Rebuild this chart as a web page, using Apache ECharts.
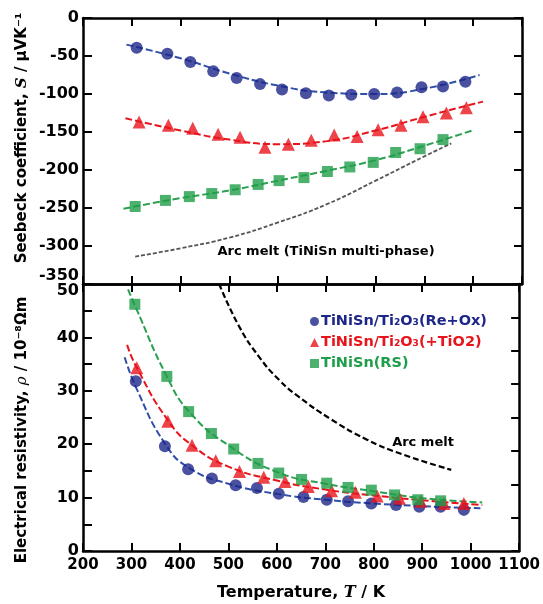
<!DOCTYPE html>
<html>
<head>
<meta charset="utf-8">
<script src="https://cdn.jsdelivr.net/npm/echarts@6/dist/echarts.min.js"></script>
<style>
  html, body { margin: 0; padding: 0; background: #fff; }
  #chart { width: 543px; height: 604px; }
</style>
</head>
<body>
<div id="chart"></div>
<script>
// sample names (legend)
const sampleNames = ['TiNiSn/Ti₂O₃(Re+Ox)', 'TiNiSn/Ti₂O₃(+TiO2)', 'TiNiSn(RS)'];
const markColors = ['#1c2688', '#e8141c', '#1f9e49'];
const fitColors = ['#2f4fa8', '#e8141c', '#2aa050'];
const markSymbols = ['circle', 'triangle', 'rect'];

// Seebeck coefficient S (uV/K) vs T (K)
const seebeckReOx = [[310,-39],[373,-47],[420,-58],[467,-70],[515,-79],[563,-87],[608,-94],[657,-99],[704,-102],[750,-101],[797,-100],[844,-98],[894,-91],[938,-90],[984,-84]];
const seebeckTiO2 = [[315,-137],[375,-141],[425,-145],[477,-153],[522,-157],[573,-170],[621,-166],[668,-161],[715,-154],[762,-156],[805,-147],[852,-141],[897,-130],[945,-125],[986,-118]];
const seebeckRS = [[307,-248],[369,-240],[418,-235],[464,-231],[512,-226],[559,-219],[602,-214],[653,-210],[701,-202],[747,-196],[795,-190],[841,-177],[891,-172],[938,-160]];
const seebeckFitReOx = [[289,-35],[400,-53],[500,-73],[600,-89],[700,-98],[800,-100],[900,-93],[1013,-75]];
const seebeckFitTiO2 = [[287,-132],[400,-148],[500,-160],[600,-166],[700,-162],[800,-148],[900,-130],[1020,-110]];
const seebeckFitRS = [[283,-251],[400,-237],[500,-227],[600,-214],[700,-201],[800,-187],[900,-168],[998,-148]];
const seebeckArcMelt = [[307,-314],[400,-303],[500,-289],[600,-269],[700,-245],[800,-214],[900,-182],[955,-165]];

// Electrical resistivity rho (10^-8 Ohm m) vs T (K)
const rhoReOx = [[309,31.8],[369,19.6],[417,15.3],[466,13.6],[515,12.3],[559,11.8],[604,10.7],[655,10.1],[703,9.6],[747,9.3],[795,8.9],[846,8.6],[894,8.3],[938,8.3],[986,7.7]];
const rhoTiO2 = [[311,34.3],[375,24.3],[425,19.8],[474,16.9],[523,14.9],[573,13.8],[617,13.0],[665,12.1],[713,11.3],[762,11.0],[807,10.3],[853,9.9],[897,9.3],[945,8.9],[986,8.9]];
const rhoRS = [[307,46.2],[373,32.7],[418,26.1],[465,22.0],[511,19.1],[561,16.4],[604,14.6],[651,13.4],[703,12.7],[747,11.9],[795,11.4],[843,10.5],[891,9.6],[938,9.4]];
const rhoFitReOx = [[286,36.3],[310,30.5],[370,20],[420,15.5],[500,12.6],[600,10.7],[700,9.6],[800,8.9],[900,8.4],[1020,8.0]];
const rhoFitTiO2 = [[291,38.6],[310,34.5],[375,24.5],[425,19.8],[500,15.8],[600,13.2],[700,11.5],[800,10.4],[900,9.5],[1024,8.6]];
const rhoFitRS = [[293,49],[307,46],[373,32.7],[420,26],[500,19.8],[600,14.8],[700,12.6],[800,11.2],[900,9.9],[1024,9.1]];
const rhoArcMelt = [[481,50],[522,42.1],[563,36.4],[604,32.1],[645,28.9],[713,24.6],[785,20.9],[856,18.2],[960,15.2]];

const font = 'DejaVu Sans, sans-serif';
const chart = echarts.init(document.getElementById('chart'));

function xAxisFor(gridIndex, position, showLabels) {
  return {
    type: 'value', gridIndex: gridIndex, position: position,
    min: 200, max: 1100, interval: 100,
    axisLine: { show: true, onZero: false, lineStyle: { color: '#000', width: 2.5 } },
    axisTick: { show: true, inside: true, length: 8, lineStyle: { color: '#000', width: 2 } },
    axisLabel: { show: showLabels, color: '#000', fontFamily: font, fontWeight: 'bold', fontSize: 15, margin: 7,
      formatter: function (v) { return String(v); } },
    splitLine: { show: false }
  };
}

function markSeries(name, data, i, xi, yi) {
  return {
    name: name, type: 'scatter', xAxisIndex: xi, yAxisIndex: yi,
    data: data, symbol: markSymbols[i], symbolSize: i === 1 ? 13 : (i === 2 ? 11 : 12),
    itemStyle: { color: markColors[i] }, z: 5
  };
}

function fitSeries(data, color, xi, yi, width, dash) {
  return {
    type: 'line', xAxisIndex: xi, yAxisIndex: yi, data: data, smooth: true,
    showSymbol: false, silent: true, z: 3,
    lineStyle: { color: color, width: width, type: dash }
  };
}

const labelRich = {
  n: { fontFamily: font, fontWeight: 'bold', fontSize: 16, color: '#000' },
  up: { fontFamily: font, fontWeight: 'bold', fontSize: 16, color: '#000', padding: [0, 0, 16, 0] },
  down: { fontFamily: font, fontWeight: 'bold', fontSize: 16, color: '#000', padding: [14, 0, 0, 0] }
};

const option = {
  animation: false,
  backgroundColor: '#fff',
  grid: [
    { left: 83, right: 21, top: 18, height: 266 },
    { left: 83, right: 21, top: 284, height: 267 }
  ],
  xAxis: [
    xAxisFor(0, 'bottom', false),
    xAxisFor(0, 'top', false),
    Object.assign(xAxisFor(1, 'bottom', true), {
      name: '{n|Temperature, }{i|T}{n| / K}', nameLocation: 'middle', nameGap: 34,
      nameTextStyle: {
        rich: {
          n: { fontFamily: font, fontWeight: 'bold', fontSize: 16, color: '#000' },
          i: { fontFamily: 'DejaVu Serif, serif', fontStyle: 'italic', fontWeight: 'bold', fontSize: 16, color: '#000' }
        }
      }
    }),
    xAxisFor(1, 'top', false)
  ],
  yAxis: [
    {
      type: 'value', gridIndex: 0, position: 'left', min: -350, max: 0, interval: 50,
      axisLine: { show: true, onZero: false, lineStyle: { color: '#000', width: 2.5 } },
      axisTick: { show: true, inside: true, length: 9, lineStyle: { color: '#000', width: 2 } },
      axisLabel: {
        color: '#000', fontFamily: font, fontWeight: 'bold', fontSize: 16, margin: 4,
        formatter: function (v) { return v === -350 ? '{up|' + v + '}' : '{n|' + v + '}'; },
        rich: labelRich
      },
      splitLine: { show: false }
    },
    {
      type: 'value', gridIndex: 0, position: 'right', min: -350, max: 0, interval: 50,
      axisLine: { show: true, onZero: false, lineStyle: { color: '#000', width: 2.5 } },
      axisTick: { show: true, inside: true, length: 8, lineStyle: { color: '#000', width: 2 } },
      axisLabel: { show: false }, splitLine: { show: false }
    },
    {
      type: 'value', gridIndex: 1, position: 'left', min: 0, max: 50, interval: 10,
      axisLine: { show: true, onZero: false, lineStyle: { color: '#000', width: 2.5 } },
      axisTick: { show: true, inside: true, length: 9, lineStyle: { color: '#000', width: 2 } },
      minorTick: { show: true, splitNumber: 2, length: 9, lineStyle: { color: '#000', width: 2 } },
      axisLabel: {
        color: '#000', fontFamily: font, fontWeight: 'bold', fontSize: 16, margin: 4,
        formatter: function (v) { return v === 50 ? '{down|' + v + '}' : '{n|' + v + '}'; },
        rich: labelRich
      },
      splitLine: { show: false }
    },
    {
      type: 'value', gridIndex: 1, position: 'right', min: 0, max: 8, interval: 1,
      axisLine: { show: true, onZero: false, lineStyle: { color: '#000', width: 2.5 } },
      axisTick: { show: true, inside: true, length: 8, lineStyle: { color: '#000', width: 2 } },
      axisLabel: { show: false }, splitLine: { show: false }
    }
  ],
  legend: {
    orient: 'vertical', left: 305, top: 309, itemWidth: 9, itemHeight: 9, itemGap: 6,
    selectedMode: false,
    textStyle: { fontFamily: font, fontWeight: 'bold', fontSize: 14.5, padding: [0, 0, 0, -3] },
    data: sampleNames.map(function (n, i) {
      return { name: n, icon: markSymbols[i], textStyle: { color: markColors[i] }, itemStyle: { color: markColors[i] } };
    })
  },
  graphic: [
    {
      type: 'text', x: 22, y: 138, rotation: Math.PI / 2,
      style: {
        text: '{n|Seebeck coefficient, }{i|S}{n| / μVK⁻¹}', align: 'center', verticalAlign: 'middle',
        rich: {
          n: { fontFamily: font, fontWeight: 'bold', fontSize: 15, fill: '#000' },
          i: { fontFamily: 'DejaVu Serif, serif', fontStyle: 'italic', fontWeight: 'bold', fontSize: 15, fill: '#000' }
        }
      }
    },
    {
      type: 'text', x: 22, y: 430, rotation: Math.PI / 2,
      style: {
        text: '{n|Electrical resistivity, }{i|ρ}{n| / 10⁻⁸Ωm}', align: 'center', verticalAlign: 'middle',
        rich: {
          n: { fontFamily: font, fontWeight: 'bold', fontSize: 15, fill: '#000' },
          i: { fontFamily: 'DejaVu Serif, serif', fontStyle: 'italic', fontSize: 15, fill: '#000' }
        }
      }
    },
    {
      type: 'text', x: 326, y: 252,
      style: { text: 'Arc melt (TiNiSn multi-phase)', align: 'center', verticalAlign: 'middle',
        fontFamily: font, fontWeight: 'bold', fontSize: 13, fill: '#000' }
    },
    {
      type: 'text', x: 423, y: 443,
      style: { text: 'Arc melt', align: 'center', verticalAlign: 'middle',
        fontFamily: font, fontWeight: 'bold', fontSize: 13, fill: '#000' }
    }
  ],
  series: [
    fitSeries(seebeckFitReOx, fitColors[0], 0, 0, 2, [7, 3]),
    fitSeries(seebeckFitTiO2, fitColors[1], 0, 0, 2, [7, 3]),
    fitSeries(seebeckFitRS, fitColors[2], 0, 0, 2, [7, 3]),
    fitSeries(seebeckArcMelt, '#555', 0, 0, 1.8, [4, 2]),
    markSeries(sampleNames[0], seebeckReOx, 0, 0, 0),
    markSeries(sampleNames[1], seebeckTiO2, 1, 0, 0),
    markSeries(sampleNames[2], seebeckRS, 2, 0, 0),
    fitSeries(rhoFitReOx, fitColors[0], 2, 2, 2, [7, 3]),
    fitSeries(rhoFitTiO2, fitColors[1], 2, 2, 2, [7, 3]),
    fitSeries(rhoFitRS, fitColors[2], 2, 2, 2, [7, 3]),
    fitSeries(rhoArcMelt, '#000', 2, 2, 2.2, [6, 3]),
    markSeries(sampleNames[0], rhoReOx, 0, 2, 2),
    markSeries(sampleNames[1], rhoTiO2, 1, 2, 2),
    markSeries(sampleNames[2], rhoRS, 2, 2, 2)
  ]
};

chart.setOption(option);
</script>
</body>
</html>
